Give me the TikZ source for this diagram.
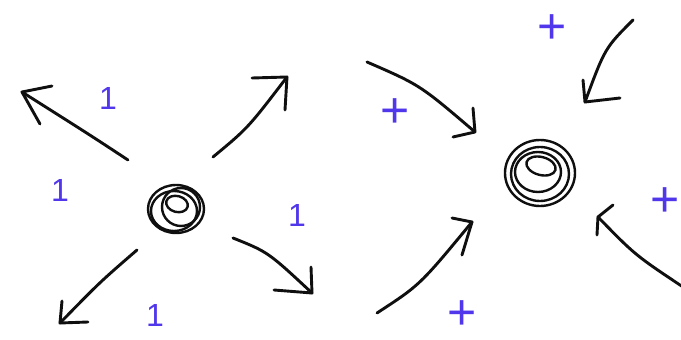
\documentclass[tikz,border=0pt]{standalone}
\usepackage{fontspec}
\setmainfont{Liberation Sans}
\definecolor{ink}{RGB}{15,15,15}
\definecolor{pen}{RGB}{80,55,235}
\begin{document}
\begin{tikzpicture}[x=1pt,y=-1pt,
  stroke/.style={draw=ink, line width=2.9pt, line cap=round, line join=round},
  thin stroke/.style={draw=ink, line width=2.4pt, line cap=round, line join=round},
  one/.style={text=pen, font=\fontsize{32}{32}\selectfont, inner sep=0pt},
  sgn/.style={text=pen, font=\fontsize{50}{50}\selectfont, inner sep=0pt}]
\useasboundingbox (0,0) rectangle (681,340);
\fill[white] (0,0) rectangle (681,340);

% ---------- left charge ----------
\coordinate (c1) at (176,209);
\draw[thin stroke] (c1) ellipse [x radius=28, y radius=24];
\draw[thin stroke] (181,207) ellipse [x radius=19, y radius=19];
\draw[thin stroke] (174,211) ellipse [x radius=23, y radius=20];
\draw[thin stroke, rotate around={-15:(177,204)}] (177,204) ellipse [x radius=11, y radius=8];

% arrows outward
\coordinate (a1s) at (128,160); \coordinate (a1e) at (22,92);
\draw[stroke] (a1s) .. controls (90,135) .. (a1e);
\draw[stroke] (52,86) -- (a1e) -- (40,124);

\coordinate (a2s) at (213,157); \coordinate (a2e) at (287,77);
\draw[stroke] (a2s) .. controls (248,128) .. (a2e);
\draw[stroke] (252,78) -- (a2e) -- (285,110);

\coordinate (a3s) at (137,250); \coordinate (a3e) at (60,323);
\draw[stroke] (a3s) .. controls (100,282) .. (a3e);
\draw[stroke] (62,301) -- (a3e) -- (88,322);

\coordinate (a4s) at (233,238); \coordinate (a4e) at (312,293);
\draw[stroke] (a4s) .. controls (268,252) .. (a4e);
\draw[stroke] (311,267) -- (a4e) -- (274,290);

\node[one] (l1) at (108,98) {1};
\node[one] (l2) at (60,190) {1};
\node[one] (l3) at (297,215) {1};
\node[one] (l4) at (155,315) {1};

% ---------- right charge ----------
\coordinate (c2) at (540,173);
\draw[thin stroke] (c2) ellipse [x radius=35, y radius=33];
\draw[thin stroke] (540,174) ellipse [x radius=29, y radius=27];
\draw[thin stroke] (538,172) ellipse [x radius=23, y radius=20];
\draw[thin stroke, rotate around={-15:(541,166)}] (541,166) ellipse [x radius=15, y radius=9];

% arrows inward
\coordinate (b1s) at (367,62); \coordinate (b1e) at (475,132);
\draw[stroke] (b1s) .. controls (420,85) .. (b1e);
\draw[stroke] (473,108) -- (b1e) -- (453,137);

\coordinate (b2s) at (633,20); \coordinate (b2e) at (585,102);
\draw[stroke] (b2s) .. controls (605,48) .. (b2e);
\draw[stroke] (583,80) -- (b2e) -- (620,98);

\coordinate (b3s) at (377,313); \coordinate (b3e) at (472,222);
\draw[stroke] (b3s) .. controls (420,285) .. (b3e);
\draw[stroke] (452,218) -- (b3e) -- (462,255);

\coordinate (b4s) at (683,287); \coordinate (b4e) at (598,217);
\draw[stroke] (b4s) .. controls (635,255) .. (b4e);
\draw[stroke] (613,205) -- (b4e) -- (597,235);

\node[sgn] (p1) at (552,29) {+};
\node[sgn] (p2) at (395,113) {+};
\node[sgn] (p3) at (665,202) {+};
\node[sgn] (p4) at (462,315) {+};
\end{tikzpicture}
\end{document}
